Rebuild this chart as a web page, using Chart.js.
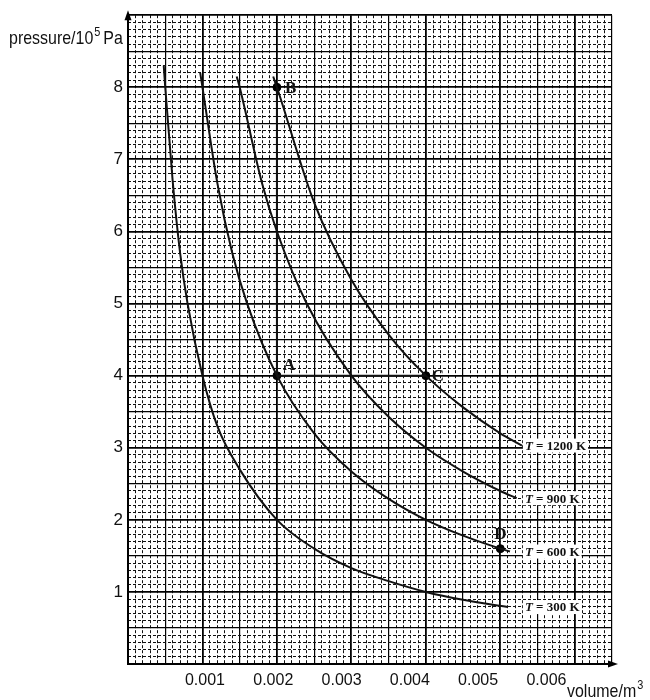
<!DOCTYPE html>
<html>
<head>
<meta charset="utf-8">
<script src="https://cdn.jsdelivr.net/npm/chart.js@4.4.1/dist/chart.umd.min.js"></script>
<style>
  html, body { margin: 0; padding: 0; background: #fff; }
  #wrap { width: 650px; height: 700px; }
</style>
</head>
<body>
<div id="wrap"><canvas id="pv"></canvas></div>
<script>
// isotherms: volume in m^3, pressure in 10^5 Pa
let t300V = [0.00048, 0.0005, 0.0006, 0.0007, 0.0008, 0.001, 0.0012, 0.0015, 0.002, 0.0025, 0.003, 0.0035, 0.004, 0.0045, 0.0051]
let t300P = [8.3, 8.0, 6.7, 5.7, 5.0, 4.0, 3.3, 2.7, 2.0, 1.6, 1.33, 1.15, 1.0, 0.89, 0.79]

let t600V = [0.00097, 0.001, 0.0012, 0.0014, 0.0016, 0.002, 0.0025, 0.003, 0.0035, 0.004, 0.0045, 0.005, 0.00513]
let t600P = [8.2, 8.0, 6.67, 5.7, 5.0, 4.0, 3.2, 2.67, 2.29, 2.0, 1.78, 1.6, 1.56]

let t900V = [0.00146, 0.0015, 0.0018, 0.002, 0.0024, 0.003, 0.0035, 0.004, 0.0045, 0.005, 0.00522]
let t900P = [8.15, 8.0, 6.67, 6.0, 5.0, 4.0, 3.43, 3.0, 2.67, 2.4, 2.3]

let t1200V = [0.00195, 0.002, 0.0025, 0.003, 0.0035, 0.004, 0.0045, 0.005, 0.00529]
let t1200P = [8.15, 8.0, 6.4, 5.33, 4.57, 4.0, 3.56, 3.2, 3.03]

let curveTemps = ["300", "600", "900", "1200"]

let pointNames = ["A", "B", "C", "D"]
let pointV = [0.002, 0.002, 0.004, 0.005]
let pointP = [4, 8, 4, 1.6]

// B -> A -> C straight lines
let pathV = [0.002, 0.002, 0.004]
let pathP = [8, 4, 4]

let xTickVals = [0.001, 0.002, 0.003, 0.004, 0.005, 0.006]
let yTickVals = [1, 2, 3, 4, 5, 6, 7, 8]

const SANS = "'Liberation Sans', Arial, sans-serif"
const SERIF = "'Liberation Serif', 'DejaVu Serif', serif"
const SQUEEZE = 0.84

function pts(xs, ys) {
    return xs.map((x, i) => ({ x: x, y: ys[i] }))
}

function curveSet(xs, ys) {
    return {
        data: pts(xs, ys),
        borderColor: "#111",
        borderWidth: 2,
        pointRadius: 0,
        fill: false,
        cubicInterpolationMode: "monotone"
    }
}

const isMult = (v, step) => Math.abs(Math.round(v / step) * step - v) < step * 1e-3

// narrow text like the printed figure
function narrowText(ctx, text, x, y) {
    ctx.save()
    ctx.translate(x, y)
    ctx.scale(SQUEEZE, 1)
    ctx.fillText(text, 0, 0)
    ctx.restore()
    return ctx.measureText(text).width * SQUEEZE
}

// text, arrows and letters on top of the paper
const paperText = {
    id: "paperText",
    afterDatasetsDraw(chart) {
        let ctx = chart.ctx
        let xs = chart.scales.x
        let ys = chart.scales.y
        let area = chart.chartArea
        ctx.save()

        // isotherm labels
        let ends = [t300P, t600P, t900P, t1200P]
        ctx.textBaseline = "middle"
        ctx.textAlign = "left"
        let px = xs.getPixelForValue(0.00533)
        for (let i = 0; i < ends.length; i++) {
            let py = ys.getPixelForValue(ends[i][ends[i].length - 1])
            ctx.font = "italic bold 13px " + SERIF
            let w1 = ctx.measureText("T").width
            ctx.font = "bold 13px " + SERIF
            let rest = " = " + curveTemps[i] + " K"
            let w2 = ctx.measureText(rest).width
            ctx.fillStyle = "#fff"
            ctx.fillRect(px - 2, py - 7, w1 + w2 + 4, 14)
            ctx.fillStyle = "#111"
            ctx.font = "italic bold 13px " + SERIF
            ctx.fillText("T", px, py + 1)
            ctx.font = "bold 13px " + SERIF
            ctx.fillText(rest, px + w1, py + 1)
        }

        // point letters
        let offs = { A: [6, -10, "left"], B: [8, 1, "left"], C: [6, 1, "left"], D: [0, -14, "center"] }
        ctx.font = "bold 17px " + SERIF
        ctx.fillStyle = "#111"
        for (let i = 0; i < pointNames.length; i++) {
            let o = offs[pointNames[i]]
            ctx.textAlign = o[2]
            ctx.fillText(pointNames[i], xs.getPixelForValue(pointV[i]) + o[0], ys.getPixelForValue(pointP[i]) + o[1])
        }

        // axis titles
        ctx.textBaseline = "alphabetic"
        ctx.textAlign = "left"
        ctx.font = "19px " + SANS
        let tx = 9
        tx += narrowText(ctx, "pressure/10", tx, 44)
        ctx.font = "13px " + SANS
        tx += narrowText(ctx, "5", tx + 1, 36) + 4
        ctx.font = "19px " + SANS
        narrowText(ctx, "Pa", tx, 44)

        ctx.font = "19px " + SANS
        let vx0 = 567
        let vw = narrowText(ctx, "volume/m", vx0, 697)
        ctx.font = "13px " + SANS
        narrowText(ctx, "3", vx0 + vw + 1, 689)

        // axis arrows
        ctx.fillStyle = "#000"
        ctx.beginPath()
        ctx.moveTo(area.left, area.top - 5)
        ctx.lineTo(area.left - 3.5, area.top + 5)
        ctx.lineTo(area.left + 3.5, area.top + 5)
        ctx.closePath()
        ctx.fill()
        ctx.beginPath()
        ctx.moveTo(area.right + 6, area.bottom)
        ctx.lineTo(area.right - 4, area.bottom - 3.5)
        ctx.lineTo(area.right - 4, area.bottom + 3.5)
        ctx.closePath()
        ctx.fill()

        ctx.restore()
    }
}

let ctx = document.getElementById("pv").getContext("2d")
let pvChart = new Chart(ctx, {
    type: "line",
    data: {
        datasets: [
            curveSet(t300V, t300P),
            curveSet(t600V, t600P),
            curveSet(t900V, t900P),
            curveSet(t1200V, t1200P),
            {
                data: pts(pathV, pathP),
                borderColor: "#111",
                borderWidth: 2,
                pointRadius: 0,
                tension: 0
            },
            {
                data: pts(pointV, pointP),
                showLine: false,
                pointRadius: 4,
                pointBackgroundColor: "#000",
                pointBorderColor: "#000"
            }
        ]
    },
    options: {
        responsive: true,
        maintainAspectRatio: false,
        animation: false,
        layout: { padding: { top: 13, right: 38, left: 0, bottom: 0 } },
        plugins: { legend: { display: false }, tooltip: { enabled: false } },
        scales: {
            x: {
                type: "linear",
                min: 0,
                max: 0.0065,
                afterFit: s => { s.height = 0 },
                border: { display: true, color: "#000", width: 2 },
                grid: {
                    drawTicks: false,
                    color: "#000",
                    lineWidth: c => isMult(c.tick.value, 0.001) ? 1.8 : 1.2
                },
                ticks: { display: false, stepSize: 0.0005, autoSkip: false }
            },
            // the printed volume labels drift left of the grid lines
            xLabels: {
                type: "linear",
                position: "bottom",
                min: -0.000127,
                max: 0.00696,
                afterFit: s => { s.height = 36 },
                border: { display: false },
                grid: { display: false, drawTicks: false },
                ticks: {
                    stepSize: 0.001,
                    includeBounds: false,
                    autoSkip: false,
                    maxRotation: 0,
                    padding: 7,
                    color: "#111",
                    font: { family: SANS, size: 16 },
                    callback: v => xTickVals.some(t => Math.abs(t - v) < 1e-7) ? v.toFixed(3) : ""
                }
            },
            xMinor: {
                type: "linear",
                position: "bottom",
                min: 0,
                max: 0.0065,
                afterFit: s => { s.height = 0 },
                border: { display: false, dash: [3, 2] },
                grid: {
                    drawTicks: false,
                    color: c => isMult(c.tick.value, 0.0005) ? "rgba(0,0,0,0)" : "#111",
                    lineWidth: 1
                },
                ticks: { display: false, stepSize: 0.0001, autoSkip: false }
            },
            y: {
                type: "linear",
                min: 0,
                max: 9,
                afterFit: s => { s.width = 128 },
                border: { display: true, color: "#000", width: 2 },
                grid: {
                    drawTicks: false,
                    color: "#000",
                    lineWidth: c => isMult(c.tick.value, 1) ? 1.8 : 1.2
                },
                ticks: {
                    stepSize: 0.5,
                    autoSkip: false,
                    padding: 5,
                    color: "#111",
                    font: { family: SANS, size: 17 },
                    callback: v => yTickVals.includes(v) ? String(v) : ""
                }
            },
            yMinor: {
                type: "linear",
                position: "left",
                min: 0,
                max: 9,
                afterFit: s => { s.width = 0 },
                border: { display: false, dash: [3, 2] },
                grid: {
                    drawTicks: false,
                    color: c => isMult(c.tick.value, 0.5) ? "rgba(0,0,0,0)" : "#111",
                    lineWidth: 1
                },
                ticks: { display: false, stepSize: 0.1, autoSkip: false }
            }
        }
    },
    plugins: [paperText]
})
</script>
</body>
</html>
